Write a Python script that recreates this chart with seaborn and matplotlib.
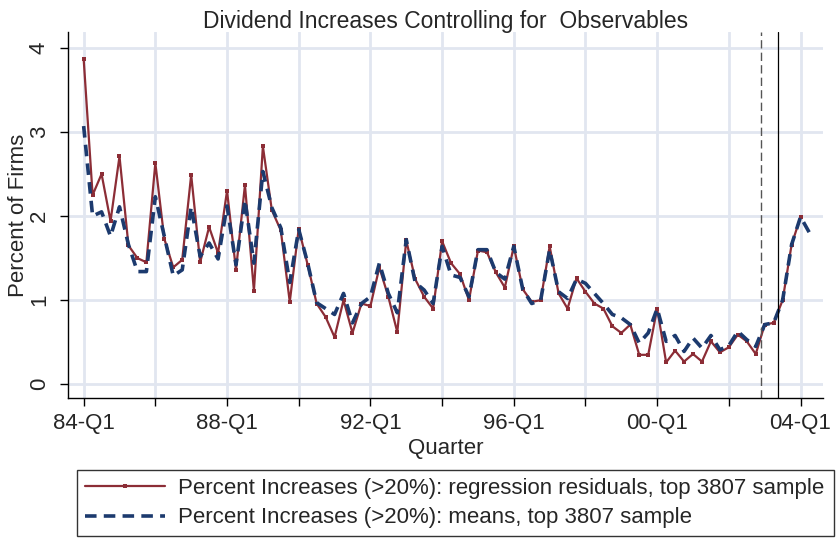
import numpy as np
import pandas as pd
import seaborn as sns
import matplotlib.pyplot as plt

# quarters since 1984Q1
resid = [3.87, 2.25, 2.50, 1.94, 2.71, 1.65, 1.50, 1.45, 2.63, 1.73,
         1.39, 1.48, 2.49, 1.45, 1.87, 1.56, 2.30, 1.36, 2.37, 1.11,
         2.83, 2.07, 1.83, 0.98, 1.85, 1.42, 0.96, 0.80, 0.56, 1.00,
         0.61, 0.96, 0.93, 1.39, 1.04, 0.62, 1.71, 1.25, 1.04, 0.90,
         1.70, 1.44, 1.31, 1.00, 1.59, 1.57, 1.33, 1.15, 1.64, 1.13,
         0.98, 1.00, 1.64, 1.08, 0.90, 1.26, 1.10, 0.96, 0.90, 0.69,
         0.61, 0.71, 0.35, 0.35, 0.90, 0.26, 0.40, 0.27, 0.36, 0.27,
         0.51, 0.38, 0.44, 0.59, 0.51, 0.36, 0.71, 0.73, 1.00, 1.66,
         1.99]
means = [3.07, 2.00, 2.05, 1.76, 2.11, 1.66, 1.34, 1.34, 2.23, 1.76,
         1.29, 1.36, 2.11, 1.52, 1.68, 1.49, 2.12, 1.42, 2.19, 1.44,
         2.53, 2.10, 1.86, 1.21, 1.84, 1.44, 0.97, 0.90, 0.83, 1.08,
         0.73, 0.96, 1.04, 1.44, 1.08, 0.85, 1.72, 1.21, 1.12, 0.96,
         1.64, 1.30, 1.27, 1.04, 1.60, 1.60, 1.33, 1.25, 1.64, 1.13,
         0.96, 1.00, 1.60, 1.10, 1.02, 1.25, 1.20, 1.08, 0.96, 0.83,
         0.79, 0.71, 0.49, 0.61, 0.90, 0.51, 0.58, 0.39, 0.55, 0.43,
         0.58, 0.41, 0.46, 0.63, 0.53, 0.45, 0.71, 0.73, 1.00, 1.66,
         1.99, 1.80]
tick_labels = ['84-Q1', '', '88-Q1', '', '92-Q1', '', '96-Q1', '', '00-Q1', '', '04-Q1']
vline_dashed = 75.6
vline_solid = 77.5

red = '#8c2d36'
blue = '#1c3a6e'

df_r = pd.DataFrame({'q': np.arange(len(resid)), 'v': resid})
df_m = pd.DataFrame({'q': np.arange(len(means)), 'v': means})

sns.set_style('white')
plt.rcParams['font.family'] = ['Liberation Sans', 'DejaVu Sans']

fig = plt.figure(figsize=(8.36, 5.4), dpi=100)
ax = fig.add_axes([0.0813, 0.263, 0.9031, 0.678])

sns.lineplot(df_r, x='q', y='v', ax=ax, color=red, linewidth=1.6, marker='s',
             markersize=3.5, markeredgewidth=0,
             label='Percent Increases (>20%): regression residuals, top 3807 sample')
sns.lineplot(df_m, x='q', y='v', ax=ax, color=blue, linewidth=2.6,
             dashes=False, linestyle=(0, (3.2, 2)),
             label='Percent Increases (>20%): means, top 3807 sample')

ax.axvline(vline_dashed, color='#555555', linestyle=(0, (6, 3)), linewidth=1.0)
ax.axvline(vline_solid, color='black', linewidth=0.9)

ax.set_xlim(-1.75, 82.5)
ax.set_ylim(-0.163, 4.19)
ax.set_xticks(np.arange(0, 81, 8))
ax.set_xticklabels(tick_labels, fontsize=16)
ax.set_yticks([0, 1, 2, 3, 4])
ax.set_yticklabels(['0', '1', '2', '3', '4'], fontsize=16, rotation=90, va='center')
ax.grid(True, color='#e1e6f0', linewidth=2)
ax.set_axisbelow(True)
for s in ['top', 'right']:
    ax.spines[s].set_visible(False)
for s in ['left', 'bottom']:
    ax.spines[s].set_color('black')
    ax.spines[s].set_linewidth(1.0)
ax.tick_params(axis='both', direction='out', length=6, width=1, color='black',
               bottom=True, left=True, pad=5)
ax.tick_params(axis='y', pad=7)
ax.set_xlabel('Quarter', fontsize=16, labelpad=3)
ax.set_ylabel('Percent of Firms', fontsize=16, labelpad=0)
ax.set_title('Dividend Increases Controlling for  Observables', fontsize=16.5, pad=3)

handles, labels = ax.get_legend_handles_labels()
ax.get_legend().remove()
leg = fig.legend(handles, labels, loc='lower left',
                 bbox_to_anchor=(0.092, 0.007, 0.906, 0.122), mode='expand',
                 borderaxespad=0, fontsize=16, frameon=True, fancybox=False,
                 edgecolor='black', handlelength=3.6, handletextpad=0.6,
                 borderpad=0.35, labelspacing=0.4)
leg.get_frame().set_linewidth(1.0)

fig.savefig('out.png', dpi=100)
